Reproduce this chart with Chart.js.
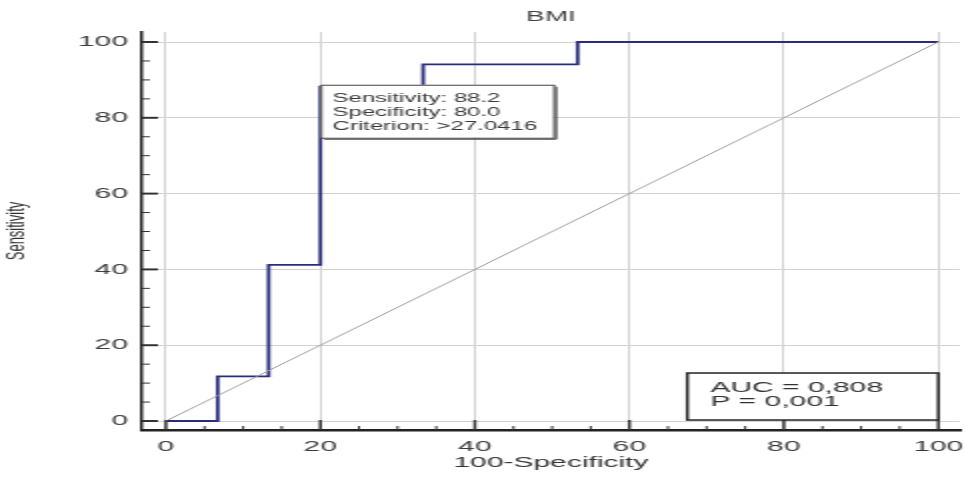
<!DOCTYPE html>
<html>
<head>
<meta charset="utf-8">
<script src="https://cdn.jsdelivr.net/npm/chart.js@4"></script>
<style>
  html, body { margin: 0; padding: 0; background: #fff; }
</style>
</head>
<body>
<canvas id="roc" width="483" height="483" style="display:block;width:966px;height:483px"></canvas>
<script>
// ROC curve corners (100-Specificity, Sensitivity)
var rocX = [0, 6.7, 6.7, 13.3, 13.3, 20, 20, 33.3, 33.3, 53.3, 53.3, 100];
var rocY = [0, 0, 11.8, 11.8, 41.2, 41.2, 88.2, 88.2, 94.1, 94.1, 100, 100];
// reference diagonal
var diagX = [0, 100];
var diagY = [0, 100];
// axis ticks
var tickValues = [0, 20, 40, 60, 80, 100];
// text boxes
var criterionLines = ['Sensitivity: 88.2', 'Specificity: 80.0', 'Criterion: >27.0416'];
var aucLines = ['AUC = 0,808', 'P = 0,001'];

var FONT = "'Liberation Sans', Arial, sans-serif";

function toPoints(xs, ys) {
    return xs.map(function (x, i) { return { x: x, y: ys[i] }; });
}

// small ticks on the axes + text boxes
var extrasPlugin = {
    id: 'extras',
    afterDatasetsDraw: function (chart) {
        var ctx = chart.ctx, xs = chart.scales.x, ys = chart.scales.y, a = chart.chartArea;
        ctx.save();
        ctx.strokeStyle = '#333';
        for (var v = 0; v <= 100; v += 5) {
            var major = v % 20 === 0;
            var py = ys.getPixelForValue(v);
            ctx.lineWidth = major ? 2 : 1;
            ctx.beginPath();
            ctx.moveTo(a.left, py);
            ctx.lineTo(a.left + (major ? 8 : 4), py);
            ctx.stroke();
            var px = xs.getPixelForValue(v);
            ctx.lineWidth = major ? 1.5 : 1;
            ctx.beginPath();
            ctx.moveTo(px, a.bottom);
            ctx.lineTo(px, a.bottom - (major ? 10 : 4));
            ctx.stroke();
        }

        // criterion box
        ctx.font = '12px ' + FONT;
        var w = 0;
        criterionLines.forEach(function (t) { w = Math.max(w, ctx.measureText(t).width); });
        var bx = xs.getPixelForValue(20), by = ys.getPixelForValue(88.2) - 2;
        var bw = w + 14, bh = 53;
        ctx.fillStyle = '#fff';
        ctx.fillRect(bx, by, bw, bh);
        ctx.strokeStyle = '#444';
        ctx.lineWidth = 1;
        ctx.strokeRect(bx + 0.5, by + 0.5, bw, bh);
        ctx.beginPath();
        ctx.moveTo(bx + bw + 1.5, by + 2);
        ctx.lineTo(bx + bw + 1.5, by + bh + 1.5);
        ctx.lineTo(bx + 2, by + bh + 1.5);
        ctx.stroke();
        ctx.fillStyle = '#3a3a3a';
        ctx.textBaseline = 'middle';
        ctx.textAlign = 'left';
        criterionLines.forEach(function (t, i) { ctx.fillText(t, bx + 6, by + 14 + i * 14); });

        // AUC box
        var rx = xs.getPixelForValue(100), bot = ys.getPixelForValue(0) - 1;
        var ax = rx - 125.5, ay = bot - 47;
        ctx.fillStyle = '#fff';
        ctx.fillRect(ax, ay, rx - ax, bot - ay);
        ctx.strokeStyle = '#222';
        ctx.lineWidth = 1.5;
        ctx.strokeRect(ax, ay, rx - ax, bot - ay);
        ctx.font = '15px ' + FONT;
        ctx.fillStyle = '#333';
        aucLines.forEach(function (t, i) { ctx.fillText(t, ax + 11.5, ay + 15 + i * 14); });
        ctx.restore();
    }
};

var chart = new Chart(document.getElementById('roc'), {
    type: 'scatter',
    data: {
        datasets: [{
            data: toPoints(diagX, diagY),
            showLine: true,
            borderColor: '#9a9a9a',
            borderWidth: 1,
            pointRadius: 0
        }, {
            data: toPoints(rocX, rocY),
            showLine: true,
            borderColor: '#2b2d7c',
            borderWidth: 1.8,
            pointRadius: 0
        }]
    },
    options: {
        responsive: false,
        animation: false,
        devicePixelRatio: 1,
        layout: { padding: { left: 0, right: 3, top: 0, bottom: 0 } },
        plugins: {
            legend: { display: false },
            tooltip: { enabled: false },
            title: {
                display: true,
                text: 'BMI',
                fullSize: false,
                color: '#444',
                font: { family: FONT, size: 14, weight: 'normal' },
                padding: { top: 8.6, bottom: 6.6 }
            }
        },
        scales: {
            x: {
                type: 'linear',
                min: -3.1,
                max: 102.8,
                afterBuildTicks: function (s) { s.ticks = tickValues.map(function (v) { return { value: v }; }); },
                afterFit: function (s) { s.height = 53; s.paddingLeft = 0; s.paddingRight = 0; },
                grid: { color: '#d2d2d2', lineWidth: 1, drawTicks: false },
                border: { color: '#222', width: 2.5 },
                ticks: { color: '#3c3c3c', padding: 8, font: { family: FONT, size: 15 }, autoSkip: false, maxRotation: 0 },
                title: {
                    display: true,
                    text: '100-Specificity',
                    color: '#333',
                    font: { family: FONT, size: 15 },
                    padding: { top: 0, bottom: 11 }
                }
            },
            y: {
                type: 'linear',
                min: -2.37,
                max: 102.64,
                afterBuildTicks: function (s) { s.ticks = tickValues.map(function (v) { return { value: v }; }); },
                afterFit: function (s) { s.width = 71; s.paddingTop = 0; s.paddingBottom = 0; },
                grid: { color: '#d2d2d2', lineWidth: 1, drawTicks: false },
                border: { color: '#222', width: 1.5 },
                ticks: { color: '#3c3c3c', padding: 7, font: { family: FONT, size: 15 }, autoSkip: false },
                title: {
                    display: true,
                    text: 'Sensitivity',
                    color: '#333',
                    font: { family: FONT, size: 13 },
                    padding: { top: 1, bottom: 0 }
                }
            }
        }
    },
    plugins: [extrasPlugin]
});
</script>
</body>
</html>
